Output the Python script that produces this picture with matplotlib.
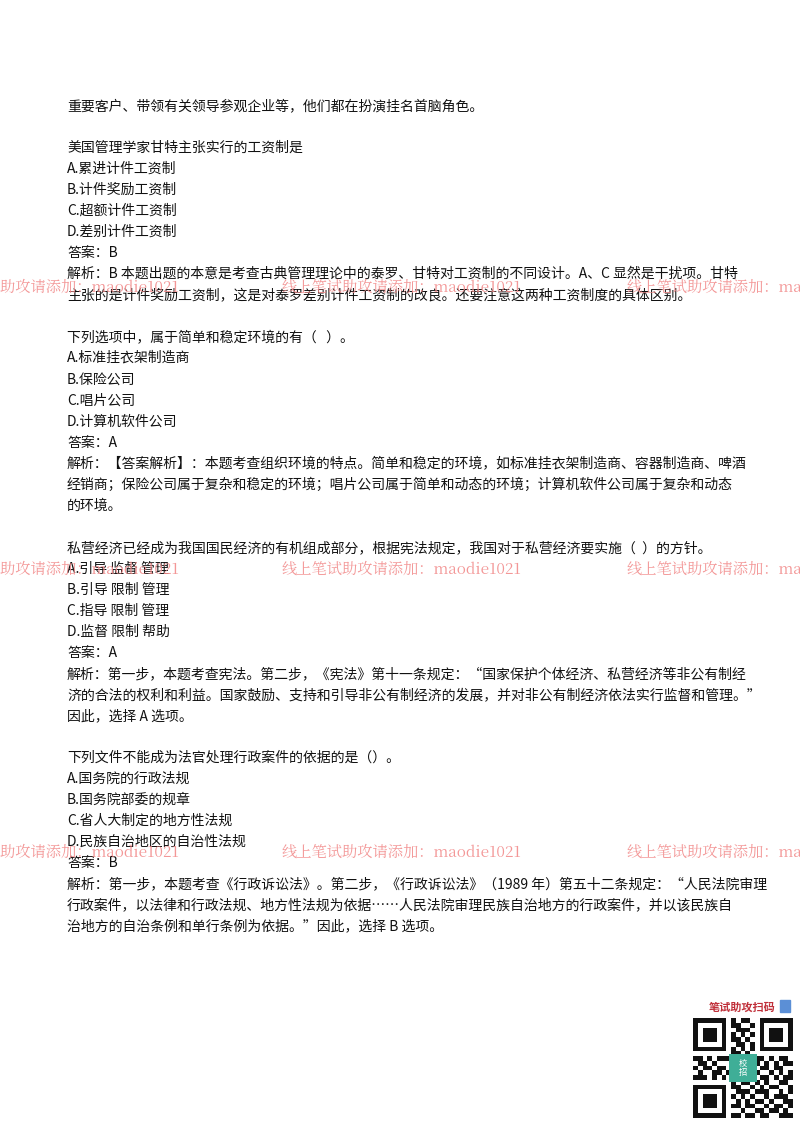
import matplotlib
matplotlib.use("Agg")
import matplotlib.pyplot as plt
from matplotlib.patches import Rectangle

plt.rcParams['font.family'] = ['Noto Sans CJK SC', 'DejaVu Sans']

lines = [
 (106, "重要客户、带领有关领导参观企业等，他们都在扮演挂名首脑角色。"),
 (148, "美国管理学家甘特主张实行的工资制是"),
 (169, "A.累进计件工资制"),
 (190, "B.计件奖励工资制"),
 (211, "C.超额计件工资制"),
 (232, "D.差别计件工资制"),
 (253, "答案：B"),
 (274, "解析：B 本题出题的本意是考查古典管理理论中的泰罗、甘特对工资制的不同设计。A、C 显然是干扰项。甘特"),
 (295, "主张的是计件奖励工资制，这是对泰罗差别计件工资制的改良。还要注意这两种工资制度的具体区别。"),
 (338, "下列选项中，属于简单和稳定环境的有（   ）。"),
 (358, "A.标准挂衣架制造商"),
 (380, "B.保险公司"),
 (401, "C.唱片公司"),
 (422, "D.计算机软件公司"),
 (443, "答案：A"),
 (464, "解析：【答案解析】：本题考查组织环境的特点。简单和稳定的环境，如标准挂衣架制造商、容器制造商、啤酒"),
 (485, "经销商；保险公司属于复杂和稳定的环境；唱片公司属于简单和动态的环境；计算机软件公司属于复杂和动态"),
 (506, "的环境。"),
 (548, "私营经济已经成为我国国民经济的有机组成部分，根据宪法规定，我国对于私营经济要实施（  ）的方针。"),
 (569, "A.引导 监督 管理"),
 (590, "B.引导 限制 管理"),
 (611, "C.指导 限制 管理"),
 (632, "D.监督 限制 帮助"),
 (653, "答案：A"),
 (674, "解析：第一步，本题考查宪法。第二步，《宪法》第十一条规定：“国家保护个体经济、私营经济等非公有制经"),
 (695, "济的合法的权利和利益。国家鼓励、支持和引导非公有制经济的发展，并对非公有制经济依法实行监督和管理。”"),
 (716, "因此，选择 A 选项。"),
 (758, "下列文件不能成为法官处理行政案件的依据的是（）。"),
 (779, "A.国务院的行政法规"),
 (800, "B.国务院部委的规章"),
 (821, "C.省人大制定的地方性法规"),
 (842, "D.民族自治地区的自治性法规"),
 (863, "答案：B"),
 (884, "解析：第一步，本题考查《行政诉讼法》。第二步，《行政诉讼法》（1989 年）第五十二条规定：“人民法院审理"),
 (905, "行政案件，以法律和行政法规、地方性法规为依据……人民法院审理民族自治地方的行政案件，并以该民族自"),
 (926, "治地方的自治条例和单行条例为依据。”因此，选择 B 选项。"),
]

wm_rows = [285, 567, 850]
wm_text = "线上笔试助攻请添加：maodie1021"
wm_x = [-60, 282, 627]

W, H = 800, 1132
fig = plt.figure(figsize=(8, 11.32), dpi=100)
ax = fig.add_axes([0, 0, 1, 1])
ax.set_xlim(0, W)
ax.set_ylim(H, 0)
ax.axis('off')

for y, t in lines:
    ax.text(67, y, t, fontsize=10, color='#111111', va='center', ha='left')

for y in wm_rows:
    for x in wm_x:
        ax.text(x, y + 2, wm_text, fontsize=11, color='#f28c8c', va='center', ha='left',
                family=['Noto Serif CJK SC', 'Noto Sans CJK SC', 'DejaVu Serif'], alpha=0.9)

# QR block
ax.text(742, 1007, "笔试助攻扫码", fontsize=8, color='#c0303a', va='center', ha='center', weight='bold')
ax.add_patch(Rectangle((780, 1000), 10, 12, color='#5b8fd6'))
ax.add_patch(Rectangle((692, 1017), 102, 102, color='white'))
pattern = [
 "111111101011001111111",
 "100000101100101000001",
 "101110100111001011101",
 "101110101010101011101",
 "101110101101001011101",
 "100000100110101000001",
 "111111101010101111111",
 "000000001101000000000",
 "110101110011011010110",
 "011010001100110101011",
 "101101100010101101100",
 "010011011101010010101",
 "111010100110001101011",
 "000000001011010100110",
 "111111101100101011001",
 "100000100111011100101",
 "101110101010100101110",
 "101110100101011010011",
 "101110101101100101101",
 "100000100010011011010",
 "111111101101101100111",
]
n = len(pattern)
cell = 100 / n
for r, row in enumerate(pattern):
    for c, v in enumerate(row):
        if v == '1':
            ax.add_patch(Rectangle((693 + c * cell, 1018 + r * cell), cell, cell, color='#111111', lw=0))
ax.add_patch(Rectangle((729, 1054), 28, 28, color='#3fae97', lw=0))
ax.text(743, 1068, "校\n招", fontsize=6, color='white', ha='center', va='center', linespacing=0.9)

fig.savefig("out.png", dpi=100)
